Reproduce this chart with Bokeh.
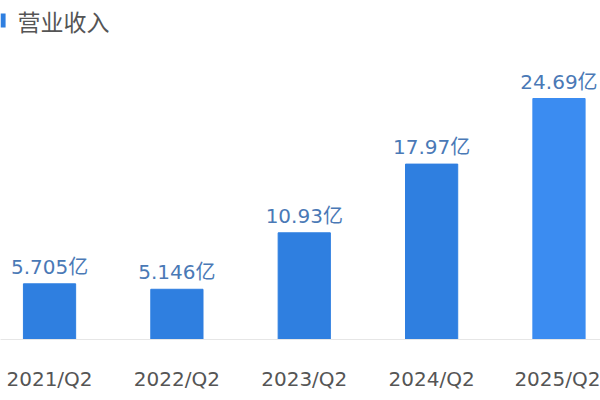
from bokeh.plotting import figure
from bokeh.models import Range1d, ColumnDataSource, Label, FixedTicker, BoxAnnotation
from bokeh.core.properties import value
from bokeh.embed import file_html
from bokeh.resources import INLINE

quarters = ["2021/Q2", "2022/Q2", "2023/Q2", "2024/Q2", "2025/Q2"]
revenue = [5.705, 5.146, 10.93, 17.97, 24.69]
labels = ["5.705亿", "5.146亿", "10.93亿", "17.97亿", "24.69亿"]
colors = ["#2f7fe0", "#2f7fe0", "#2f7fe0", "#2f7fe0", "#3b8cf1"]

FONT = "DejaVu Sans, Noto Sans CJK SC"
CJK = "Noto Sans CJK SC"

src = ColumnDataSource(dict(x=list(range(len(quarters))), y=revenue,
                            label=labels, color=colors))

x0, x1 = -0.385, 4.326
y0, y1 = 0, 34.73

p = figure(width=600, height=400, output_backend="svg", toolbar_location=None,
           title=None, x_range=Range1d(x0, x1), y_range=Range1d(y0, y1),
           min_border=0, min_border_bottom=61, outline_line_color=None)

p.vbar(x="x", top="y", width=0.41, color="color", source=src)

p.text(x="x", y="y", text="label", source=src, y_offset=-17,
       text_align="center", text_baseline="middle", text_font=value(FONT),
       text_font_size="20px", text_color="#4a79b6")

# legend-like marker + title in the top-left corner
p.add_layout(BoxAnnotation(left=x0, right=x0 + 0.04, bottom=31.96, top=33.4,
                           fill_color="#2f7fe0", fill_alpha=1, line_color=None))
p.add_layout(Label(x=-0.252, y=32.68, text="营业收入", text_font=CJK,
                   text_font_size="23px", text_color="#555555",
                   text_baseline="middle"))

p.grid.visible = False
p.yaxis.visible = False
p.xaxis.ticker = FixedTicker(ticks=list(range(len(quarters))))
p.xaxis.major_label_overrides = {i: q for i, q in enumerate(quarters)}
p.xaxis.major_tick_line_color = None
p.xaxis.minor_tick_line_color = None
p.xaxis.axis_line_color = "#e6e6e6"
p.xaxis.axis_line_width = 1
p.xaxis.major_label_standoff = 21
p.xaxis.major_label_text_font = FONT
p.xaxis.major_label_text_font_size = "20px"
p.xaxis.major_label_text_color = "#555555"

open("out.html", "w").write(file_html(p, INLINE))
